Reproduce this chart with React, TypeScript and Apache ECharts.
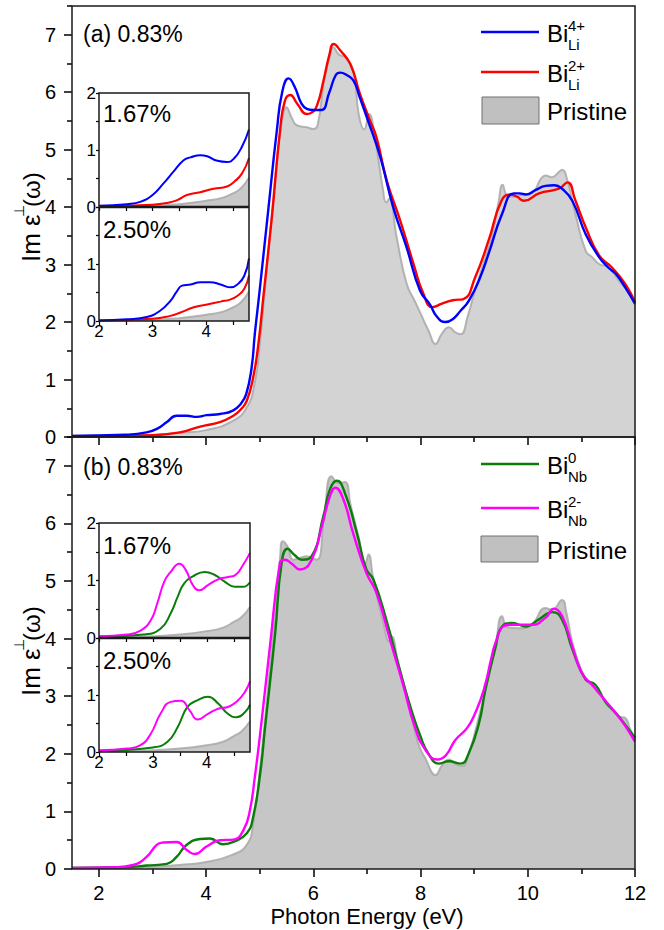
import React, { useEffect, useRef } from "react";
import * as echarts from "echarts";

// ---------- data ----------
const pristineA = [[1.5,0.02],[2.5,0.03],[3,0.04],[3.5,0.07],[4,0.12],[4.5,0.28],[4.75,0.5],[4.9,0.9],[5.0,1.6],[5.1,2.6],[5.2,3.6],[5.3,4.6],[5.4,5.4],[5.5,5.74],[5.6,5.55],[5.7,5.42],[5.88,5.39],[6.0,5.36],[6.08,5.42],[6.2,6.2],[6.3,6.6],[6.38,6.78],[6.47,6.66],[6.6,6.6],[6.75,6.35],[6.85,5.6],[6.95,5.35],[7.04,5.62],[7.15,5.2],[7.3,4.3],[7.36,4.08],[7.42,4.15],[7.55,3.5],[7.74,2.67],[7.9,2.35],[8.0,2.15],[8.15,1.85],[8.28,1.62],[8.4,1.8],[8.53,1.91],[8.65,1.82],[8.75,1.79],[8.88,2.1],[9.0,2.5],[9.2,3.1],[9.34,3.53],[9.46,4.11],[9.53,4.39],[9.62,4.2],[9.75,4.18],[9.9,4.22],[10.08,4.25],[10.25,4.5],[10.33,4.55],[10.45,4.52],[10.57,4.6],[10.64,4.65],[10.74,4.46],[10.89,3.88],[11.08,3.24],[11.2,3.13],[11.33,3.01],[11.51,2.95],[11.7,2.72],[11.85,2.55],[12,2.3]];
const bi4LiA = [[1.5,0.02],[2.5,0.04],[2.89,0.08],[3.1,0.15],[3.27,0.26],[3.45,0.37],[3.64,0.37],[3.83,0.35],[4.01,0.38],[4.26,0.4],[4.5,0.46],[4.65,0.58],[4.75,0.75],[4.85,1.21],[4.91,1.8],[5.0,2.55],[5.16,3.95],[5.32,5.33],[5.42,6.0],[5.54,6.24],[5.65,6.1],[5.78,5.8],[5.88,5.71],[6.0,5.69],[6.15,5.69],[6.3,6.0],[6.42,6.3],[6.5,6.34],[6.62,6.3],[6.75,6.2],[6.87,5.9],[7.0,5.56],[7.25,4.87],[7.49,4.0],[7.74,3.3],[7.99,2.55],[8.18,2.3],[8.3,2.1],[8.46,2.0],[8.6,2.05],[8.75,2.2],[8.9,2.37],[9.1,2.75],[9.27,3.19],[9.52,3.88],[9.74,4.24],[9.85,4.24],[9.96,4.22],[10.15,4.3],[10.33,4.37],[10.5,4.38],[10.64,4.32],[10.83,4.11],[11.08,3.53],[11.33,3.13],[11.5,2.95],[11.64,2.84],[11.82,2.6],[12,2.32]];
const bi2LiA = [[1.5,0.01],[2.5,0.02],[3.02,0.03],[3.51,0.08],[3.89,0.18],[4.26,0.26],[4.51,0.37],[4.65,0.48],[4.76,0.63],[4.88,1.04],[4.98,1.65],[5.07,2.45],[5.23,3.85],[5.38,5.33],[5.47,5.85],[5.57,5.95],[5.7,5.8],[5.88,5.62],[5.96,5.64],[6.07,5.77],[6.19,6.2],[6.3,6.65],[6.38,6.84],[6.5,6.73],[6.69,6.49],[6.87,5.97],[7.06,5.5],[7.18,5.21],[7.37,4.46],[7.62,3.77],[7.87,3.01],[8.05,2.5],[8.22,2.26],[8.4,2.32],[8.6,2.38],[8.8,2.4],[9.02,2.78],[9.27,3.42],[9.51,4.11],[9.68,4.22],[9.8,4.18],[9.93,4.11],[10.21,4.24],[10.58,4.32],[10.74,4.43],[10.89,4.11],[11.08,3.65],[11.33,3.16],[11.57,2.95],[11.82,2.66],[12,2.35]];

const pristineB = [[1.5,0.02],[3,0.04],[3.5,0.07],[4,0.12],[4.5,0.25],[4.76,0.42],[4.88,0.79],[5.0,1.7],[5.1,2.6],[5.2,3.6],[5.3,4.6],[5.38,5.4],[5.43,5.69],[5.52,5.6],[5.63,5.37],[5.75,5.4],[5.88,5.43],[6.06,5.37],[6.2,6.1],[6.34,6.82],[6.47,6.7],[6.59,6.72],[6.7,6.3],[6.85,5.75],[6.97,5.3],[7.03,5.46],[7.12,5.03],[7.3,4.3],[7.42,3.95],[7.46,4.04],[7.58,3.6],[7.75,3.0],[7.95,2.2],[8.1,1.9],[8.28,1.63],[8.4,1.8],[8.53,1.9],[8.65,1.82],[8.78,1.79],[8.9,2.0],[9.05,2.5],[9.21,3.11],[9.4,3.9],[9.52,4.39],[9.62,4.2],[9.84,4.18],[10.08,4.25],[10.33,4.53],[10.45,4.5],[10.64,4.67],[10.72,4.45],[10.83,3.94],[11.0,3.45],[11.15,3.22],[11.3,3.1],[11.5,2.85],[11.7,2.65],[11.82,2.62],[11.9,2.45],[12,2.25]];
const bi0NbB = [[1.5,0.02],[2.5,0.03],[2.89,0.06],[3.27,0.09],[3.45,0.21],[3.64,0.42],[3.89,0.52],[4.07,0.53],[4.32,0.43],[4.51,0.47],[4.76,0.62],[4.88,0.91],[5.01,1.66],[5.1,2.45],[5.29,4.1],[5.41,5.32],[5.52,5.56],[5.65,5.45],[5.79,5.37],[5.97,5.43],[6.19,6.13],[6.31,6.59],[6.44,6.74],[6.6,6.5],[6.81,5.84],[6.99,5.2],[7.12,5.03],[7.37,4.3],[7.6,3.5],[7.8,2.85],[8.0,2.3],[8.15,2.0],[8.34,1.83],[8.53,1.87],[8.75,1.83],[8.9,2.01],[9.09,2.53],[9.21,3.11],[9.4,3.85],[9.52,4.21],[9.71,4.27],[9.96,4.21],[10.2,4.33],[10.46,4.46],[10.64,4.33],[10.83,3.82],[11.08,3.29],[11.26,3.2],[11.45,2.9],[11.64,2.71],[11.82,2.5],[12,2.28]];
const bi2NbB = [[1.5,0.02],[2.3,0.03],[2.64,0.07],[2.89,0.21],[3.08,0.42],[3.2,0.46],[3.45,0.47],[3.64,0.33],[3.79,0.26],[4.01,0.39],[4.26,0.5],[4.51,0.51],[4.7,0.68],[4.82,1.03],[4.91,1.6],[5.01,2.35],[5.19,3.85],[5.38,5.32],[5.47,5.37],[5.6,5.3],[5.75,5.2],[5.97,5.37],[6.16,5.95],[6.31,6.47],[6.41,6.62],[6.56,6.42],[6.74,5.84],[6.99,5.14],[7.18,4.79],[7.43,3.98],[7.66,3.25],[7.9,2.45],[8.09,2.07],[8.31,1.9],[8.47,1.97],[8.65,2.24],[8.87,2.45],[9.02,2.71],[9.18,3.11],[9.46,4.1],[9.65,4.24],[9.84,4.24],[10.08,4.24],[10.33,4.36],[10.49,4.52],[10.64,4.39],[10.83,3.87],[11.01,3.4],[11.2,3.2],[11.33,3.05],[11.64,2.71],[11.82,2.48],[12,2.21]];

// insets
const insetA167Blue = [[2,0.02],[2.52,0.05],[2.77,0.09],[3.0,0.21],[3.2,0.41],[3.39,0.62],[3.58,0.82],[3.71,0.87],[3.89,0.91],[4.02,0.89],[4.21,0.81],[4.39,0.79],[4.52,0.85],[4.67,1.06],[4.8,1.36]];
const insetA167Red = [[2,0.01],[3.0,0.04],[3.27,0.07],[3.46,0.12],[3.64,0.21],[3.89,0.26],[4.14,0.32],[4.39,0.36],[4.52,0.44],[4.67,0.59],[4.8,0.86]];
const insetA250Blue = [[2,0.01],[2.52,0.03],[2.89,0.07],[3.14,0.18],[3.33,0.35],[3.46,0.53],[3.55,0.62],[3.71,0.64],[3.89,0.68],[4.08,0.68],[4.27,0.64],[4.46,0.59],[4.58,0.64],[4.71,0.79],[4.8,1.1]];
const insetA250Red = [[2,0.01],[3.0,0.04],[3.33,0.09],[3.52,0.15],[3.77,0.24],[4.02,0.29],[4.27,0.34],[4.46,0.38],[4.58,0.44],[4.71,0.56],[4.8,0.8]];
const insetAGray = [[2,0.01],[2.5,0.015],[3,0.02],[3.5,0.05],[4,0.11],[4.3,0.16],[4.5,0.24],[4.65,0.33],[4.8,0.52]];
const insetB167Magenta = [[2,0.03],[2.52,0.06],[2.77,0.13],[2.96,0.31],[3.08,0.6],[3.21,0.98],[3.33,1.15],[3.49,1.29],[3.61,1.18],[3.74,0.92],[3.86,0.83],[4.02,0.92],[4.21,1.02],[4.39,1.06],[4.52,1.09],[4.67,1.27],[4.8,1.48]];
const insetB167Green = [[2,0.02],[2.83,0.06],[3.14,0.16],[3.33,0.43],[3.46,0.72],[3.58,0.95],[3.74,1.07],[3.96,1.15],[4.14,1.1],[4.33,0.98],[4.52,0.89],[4.67,0.89],[4.8,0.97]];
const insetB250Magenta = [[2,0.03],[2.52,0.06],[2.77,0.12],[2.96,0.32],[3.14,0.67],[3.33,0.88],[3.52,0.9],[3.68,0.73],[3.83,0.57],[4.02,0.67],[4.21,0.76],[4.39,0.79],[4.55,0.88],[4.71,1.06],[4.8,1.24]];
const insetB250Green = [[2,0.02],[3.0,0.08],[3.27,0.18],[3.46,0.44],[3.64,0.79],[3.83,0.91],[4.02,0.97],[4.21,0.85],[4.39,0.67],[4.55,0.61],[4.71,0.7],[4.8,0.83]];
const insetBGray = [[2,0.01],[3,0.03],[3.5,0.06],[4,0.12],[4.3,0.18],[4.5,0.28],[4.65,0.37],[4.8,0.54]];

// ticks
const xTicks = [2, 4, 6, 8, 10, 12];
const xMinorTicks = [3, 5, 7, 9, 11];
const yTicks = [0, 1, 2, 3, 4, 5, 6, 7];
const yMinorTicks = [0.5, 1.5, 2.5, 3.5, 4.5, 5.5, 6.5, 7.5];
const insetXLabels = [2, 3, 4];
const insetXTicks = [2, 2.5, 3, 3.5, 4, 4.5];
const insetYLabelsTop = [0, 1, 2];
const insetYLabelsBottom = [0, 1];
const insetYTicks = [0, 0.5, 1, 1.5, 2];

const FONT = "'Liberation Sans', Arial, Helvetica, sans-serif";
const BLACK = "#000";

const C_BLUE = "#0000ff";
const C_RED = "#ff0000";
const C_GREEN = "#0a7d0a";
const C_MAG = "#ff00ff";

export default function App() {
  const ref = useRef<HTMLDivElement>(null);
  useEffect(() => {
    if (!ref.current) return;
    const chart = echarts.init(ref.current, null, { renderer: "svg" });

    const grids = [
      { left: 72, top: 6, width: 563, height: 431 },
      { left: 72, top: 437, width: 563, height: 432 },
      { left: 99, top: 93, width: 150, height: 114 },
      { left: 99, top: 207, width: 150, height: 114 },
      { left: 99, top: 523, width: 151, height: 115 },
      { left: 99, top: 638, width: 151, height: 114 },
    ].map((g) => ({ ...g, show: false, containLabel: false }));

    const tickStyle = { color: BLACK, width: 1.5 };

    const mainX = (gi: number, labels: boolean) => ({
      type: "value", gridIndex: gi, min: 1.5, max: 12, position: "bottom", offset: 0,
      axisLine: { show: false }, splitLine: { show: false },
      axisTick: { show: true, customValues: xTicks, length: 8, lineStyle: tickStyle },
      axisLabel: { show: labels, customValues: xTicks, margin: 14, color: BLACK, fontSize: 20, fontFamily: FONT },
    });
    const mainXMinor = (gi: number) => ({
      type: "value", gridIndex: gi, min: 1.5, max: 12, position: "bottom", offset: 0,
      axisLine: { show: false }, splitLine: { show: false },
      axisTick: { show: true, customValues: xMinorTicks, length: 5, lineStyle: tickStyle },
      axisLabel: { show: false },
    });
    const mainY = (gi: number) => ({
      type: "value", gridIndex: gi, min: 0, max: 7.5, position: "left", offset: 0,
      axisLine: { show: false }, splitLine: { show: false },
      axisTick: { show: true, customValues: yTicks, length: 8, lineStyle: tickStyle },
      axisLabel: { show: true, customValues: yTicks, margin: 16, color: BLACK, fontSize: 20, fontFamily: FONT },
    });
    const mainYMinor = (gi: number) => ({
      type: "value", gridIndex: gi, min: 0, max: 7.5, position: "left", offset: 0,
      axisLine: { show: false }, splitLine: { show: false },
      axisTick: { show: true, customValues: yMinorTicks, length: 5, lineStyle: tickStyle },
      axisLabel: { show: false },
    });
    const insetX = (gi: number, labels: boolean) => ({
      type: "value", gridIndex: gi, min: 2, max: 4.8, position: "bottom", offset: 0, z: 5,
      axisLine: { show: false }, splitLine: { show: false },
      axisTick: { show: true, customValues: insetXTicks, length: 4, lineStyle: { color: BLACK, width: 1.2 } },
      axisLabel: { show: labels, customValues: insetXLabels, margin: 2, color: BLACK, fontSize: 17, fontFamily: FONT },
    });
    const insetY = (gi: number, labelVals: number[]) => ({
      type: "value", gridIndex: gi, min: 0, max: 2, position: "left", offset: 0, z: 5,
      axisLine: { show: false }, splitLine: { show: false },
      axisTick: { show: true, customValues: insetYTicks, length: 3, lineStyle: { color: BLACK, width: 1.2 } },
      axisLabel: { show: true, customValues: labelVals, margin: 3, color: BLACK, fontSize: 17, fontFamily: FONT },
    });

    const xAxis = [
      mainX(0, false), mainX(1, true), mainXMinor(0), mainXMinor(1),
      insetX(2, false), insetX(3, true), insetX(4, false), insetX(5, true),
    ];
    const yAxis = [
      mainY(0), mainY(1), mainYMinor(0), mainYMinor(1),
      insetY(2, insetYLabelsTop), insetY(3, insetYLabelsBottom), insetY(4, insetYLabelsTop), insetY(5, insetYLabelsBottom),
    ];

    const SMOOTH = 0.5;
    const line = (data: number[][], color: string, xi: number, yi: number, z: number, w = 2.4) => ({
      type: "line", data, xAxisIndex: xi, yAxisIndex: yi, z,
      smooth: SMOOTH, symbol: "none", silent: true,
      lineStyle: { color, width: w },
    });
    const area = (data: number[][], fill: string, xi: number, yi: number, z: number) => ({
      type: "line", data, xAxisIndex: xi, yAxisIndex: yi, z,
      smooth: SMOOTH, symbol: "none", silent: true,
      lineStyle: { color: "#a8a8a8", width: 2, opacity: 0.85 },
      areaStyle: { color: fill, opacity: 1 },
    });

    const series = [
      area(pristineA, "#d3d3d3", 0, 0, 2),
      line(bi2LiA, C_RED, 0, 0, 2),
      line(bi4LiA, C_BLUE, 0, 0, 2),
      area(pristineB, "#c6c6c6", 1, 1, 2),
      line(bi0NbB, C_GREEN, 1, 1, 2),
      line(bi2NbB, C_MAG, 1, 1, 2),
      // insets panel a
      area(insetAGray, "#c8c8c8", 4, 4, 4),
      line(insetA167Red, C_RED, 4, 4, 4, 2),
      line(insetA167Blue, C_BLUE, 4, 4, 4, 2),
      area(insetAGray, "#c8c8c8", 5, 5, 4),
      line(insetA250Red, C_RED, 5, 5, 4, 2),
      line(insetA250Blue, C_BLUE, 5, 5, 4, 2),
      // insets panel b
      area(insetBGray, "#c8c8c8", 6, 6, 4),
      line(insetB167Green, C_GREEN, 6, 6, 4, 2),
      line(insetB167Magenta, C_MAG, 6, 6, 4, 2),
      area(insetBGray, "#c8c8c8", 7, 7, 4),
      line(insetB250Green, C_GREEN, 7, 7, 4, 2),
      line(insetB250Magenta, C_MAG, 7, 7, 4, 2),
    ];

    const txt = (x: number, y: number, text: string, fontSize: number, align = "left", z = 10) => ({
      type: "text", x, y, z, silent: true,
      style: { text, fontSize, fontFamily: FONT, fill: BLACK, align, verticalAlign: "middle", textAlign: align, textVerticalAlign: "middle" },
    });
    const frame = (x: number, y: number, w: number, h: number, lw: number, z = 10) => ({
      type: "rect", z, silent: true, shape: { x, y, width: w, height: h },
      style: { fill: "none", stroke: "#1a1a1a", lineWidth: lw },
    });
    const hline = (x1: number, x2: number, y: number, color: string, lw: number, z = 10) => ({
      type: "line", z, silent: true, shape: { x1, y1: y, x2, y2: y },
      style: { stroke: color, lineWidth: lw },
    });
    const tstyle = (text: string, fontSize: number) => ({
      text, fontSize, fontFamily: FONT, fill: BLACK, align: "left", verticalAlign: "middle", textAlign: "left", textVerticalAlign: "middle",
    });
    const ylabel = (yStart: number) => ({
      type: "group", x: 31, y: yStart, rotation: Math.PI / 2, z: 10,
      children: [
        { type: "text", x: 0, y: 0, z: 10, style: tstyle("Im ε", 26) },
        { type: "text", x: 45, y: -12, z: 10, style: tstyle("⊥", 14) },
        { type: "text", x: 55, y: 0, z: 10, style: tstyle("(ω)", 24) },
      ],
    });
    const legendEntry = (y: number, color: string, sup: string, sub: string) => [
      hline(481, 539, y, color, 2.6),
      txt(547, y + 1, "Bi", 24),
      txt(568, y - 7, sup, 15),
      txt(568, y + 12, sub, 15),
    ];

    const graphic = [
      // white inset backgrounds
      { type: "rect", z: 3, silent: true, shape: { x: 99, y: 93, width: 150, height: 228 }, style: { fill: "#fff" } },
      { type: "rect", z: 3, silent: true, shape: { x: 99, y: 523, width: 151, height: 229 }, style: { fill: "#fff" } },
      // main frames
      frame(72, 6, 563, 431, 1.5),
      frame(72, 437, 563, 432, 1.5),
      // inset frames
      frame(99, 93, 150, 228, 1.5),
      hline(99, 249, 207, "#1a1a1a", 2.6),
      frame(99, 523, 151, 229, 1.5),
      hline(99, 250, 638, "#1a1a1a", 2.6),
      // panel labels
      txt(83, 34, "(a) 0.83%", 23),
      txt(83, 467, "(b) 0.83%", 23),
      txt(103, 113, "1.67%", 24),
      txt(103, 229, "2.50%", 24),
      txt(103, 545, "1.67%", 24),
      txt(103, 660, "2.50%", 24),
      // legends
      ...legendEntry(32, C_BLUE, "4+", "Li"),
      ...legendEntry(72, C_RED, "2+", "Li"),
      { type: "rect", z: 10, silent: true, shape: { x: 482, y: 97, width: 57, height: 27 }, style: { fill: "#c0c0c0", stroke: "#707070", lineWidth: 1 } },
      txt(547, 111, "Pristine", 24),
      ...legendEntry(464, C_GREEN, "0", "Nb"),
      ...legendEntry(508, C_MAG, "2-", "Nb"),
      { type: "rect", z: 10, silent: true, shape: { x: 481, y: 536, width: 57, height: 26 }, style: { fill: "#c0c0c0", stroke: "#707070", lineWidth: 1 } },
      txt(547, 550, "Pristine", 24),
      // axis titles
      ylabel(262),
      ylabel(696),
      txt(367, 916, "Photon Energy (eV)", 22, "center"),
    ];

    chart.setOption({
      animation: false,
      backgroundColor: "#fff",
      grid: grids,
      xAxis,
      yAxis,
      series,
      graphic,
    } as any);
    return () => chart.dispose();
  }, []);
  return <div ref={ref} style={{ position: "fixed", left: 0, top: 0, width: 664, height: 930 }} />;
}
